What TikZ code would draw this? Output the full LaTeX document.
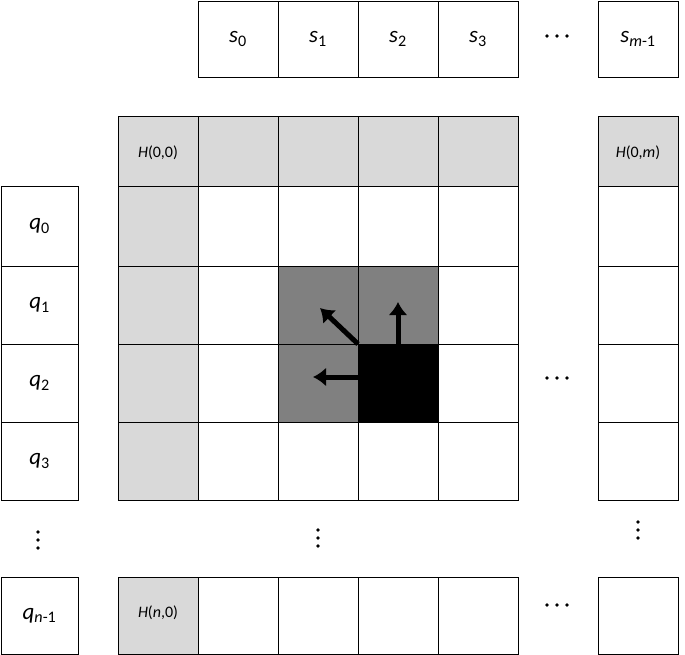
\documentclass[tikz,border=0pt]{standalone}
\usepackage{fontspec}
\setmainfont{Carlito}
\usetikzlibrary{arrows.meta}
\begin{document}
\begin{tikzpicture}[x=1pt,y=-1pt,
  cell/.style={draw=black,line width=0.9pt},
  lg/.style={fill=gray!30},
  lbl/.style={font=\fontsize{23}{26}\selectfont},
  hl/.style={font=\fontsize{16}{19}\selectfont},
  dotc/.style={fill=black},
  arr/.style={line width=5pt,-{Latex[length=13pt,width=19pt]}}]
\useasboundingbox (0,0) rectangle (685,655);
% s row
\foreach \x/\t in {198/0,278/1,358/2,438/3}
  \draw[cell] (\x,1) rectangle ++(80,76) node[midway,lbl] {\textit{s}\textsubscript{\t}};
\draw[cell] (598,1) rectangle (678,77) node[midway,lbl] {\textit{s}\textsubscript{\textit{m}-1}};
% shading
\fill[lg] (118,116) rectangle (518,186);
\fill[lg] (598,116) rectangle (678,186);
\fill[lg] (118,186) rectangle (198,500);
\fill[lg] (118,577) rectangle (198,655);
\fill[black!50] (278,266) rectangle (438,422);
\fill[black] (358,344) rectangle (438,422);
% main grid
\foreach \y/\h in {116/70,186/80,266/78,344/78,422/78}{
  \foreach \x in {118,198,278,358,438}
    \draw[cell] (\x,\y) rectangle ++(80,\h);
  \draw[cell] (598,\y) rectangle ++(80,\h);
}
\foreach \x in {118,198,278,358,438}
  \draw[cell] (\x,577) rectangle ++(80,77);
\draw[cell] (598,577) rectangle (678,654);
\node[hl] at (158,153) {\textit{H}(0,0)};
\node[hl] at (638,153) {\textit{H}(0,\textit{m})};
\node[hl] at (158,613) {\textit{H}(\textit{n},0)};
% q column
\foreach \y/\t in {186/0,266/1,344/2,422/3}
  \draw[cell] (1,\y) rectangle ++(77,\ifnum\t=0 80\else 78\fi) node[midway,lbl] {\textit{q}\textsubscript{\t}};
\draw[cell] (1,577) rectangle (78,654) node[midway,lbl] {\textit{q}\textsubscript{\textit{n}-1}};
% dots (drawn)
\foreach \cx/\cy in {557/36,557/378,557/605}
  \foreach \d in {-10,0,10}
    \fill[dotc] (\cx+\d,\cy) circle (1.8);
\foreach \cx/\cy in {38/540,318/538,638/530}
  \foreach \d in {-8,0,8}
    \fill[dotc] (\cx,\cy+\d) circle (1.8);
% arrows
\coordinate (c) at (358,344);
\coordinate (up) at (398,302);
\coordinate (lf) at (313,377);
\coordinate (dg) at (320,308);
\draw[arr] (398,346) -- (up);
\draw[arr] (360,377) -- (lf);
\draw[arr] (c) -- (dg);
\end{tikzpicture}
\end{document}
